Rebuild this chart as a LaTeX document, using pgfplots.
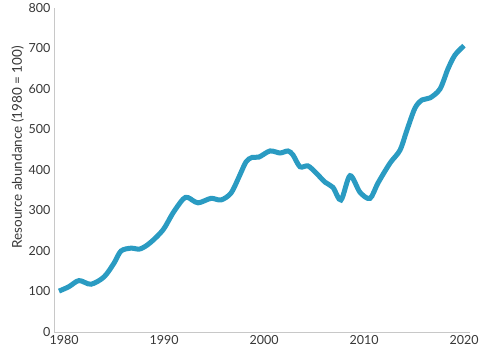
\documentclass[border=0pt]{standalone}
\usepackage{pgfplots}
\pgfplotsset{compat=1.18}
\usepackage{fontspec}
\setmainfont{Lato}
\definecolor{lineblue}{RGB}{42,155,194}
\definecolor{axisgray}{RGB}{200,200,200}
\definecolor{textgray}{RGB}{55,55,55}
\begin{document}
\begin{tikzpicture}
\begin{axis}[
  name=ax,
  scale only axis,
  width=416pt, height=324pt,
  xmin=1979.0, xmax=2020.6,
  ymin=0, ymax=800,
  xtick={1980,1990,2000,2010,2020},
  ytick={0,100,...,800},
  xticklabel style={/pgf/number format/1000 sep={}},
  /pgf/number format/assume math mode=true,
  tick label style={font=\fontsize{12.5}{14}\selectfont, text=textgray},
  axis x line*=bottom,
  axis y line*=left,
  axis line style={axisgray, line width=0.8pt, -},
  major tick length=0pt,
  xticklabel shift=0pt,
  yticklabel shift=0pt,
  ylabel={Resource abundance (1980 = 100)},
  ylabel style={font=\fontsize{13.5}{15}\selectfont, text=textgray, at={(ticklabel cs:0.57)}, yshift=-2pt},
  clip=false,
]
\addplot[lineblue, line width=5pt, smooth, tension=0.5] coordinates {
(1979.5,101) (1980.5,112) (1981.5,127) (1982.7,118) (1984.0,136) (1985.0,170)
(1985.7,200) (1986.7,207) (1987.6,205) (1988.6,220) (1989.9,252) (1990.9,294)
(1991.9,328) (1992.4,332) (1993.4,319) (1994.7,330) (1995.7,326) (1996.7,343)
(1997.5,383) (1998.2,420) (1998.8,431) (1999.5,432) (2000.6,447) (2001.6,442)
(2002.4,447) (2002.9,437) (2003.6,408) (2004.4,410) (2005.2,393) (2006.1,370)
(2006.9,357) (2007.7,326) (2008.6,386) (2009.6,345) (2010.6,330) (2011.4,368)
(2012.6,417) (2013.6,449) (2014.3,499) (2015.1,553) (2015.8,573) (2016.6,578)
(2017.6,600) (2018.4,650) (2019.1,684) (2020.0,707)
};
\end{axis}
\pgfresetboundingbox
\path ([shift={(-54pt,-22pt)}]ax.south west) rectangle ([shift={(16pt,8pt)}]ax.north east);
\end{tikzpicture}
\end{document}
